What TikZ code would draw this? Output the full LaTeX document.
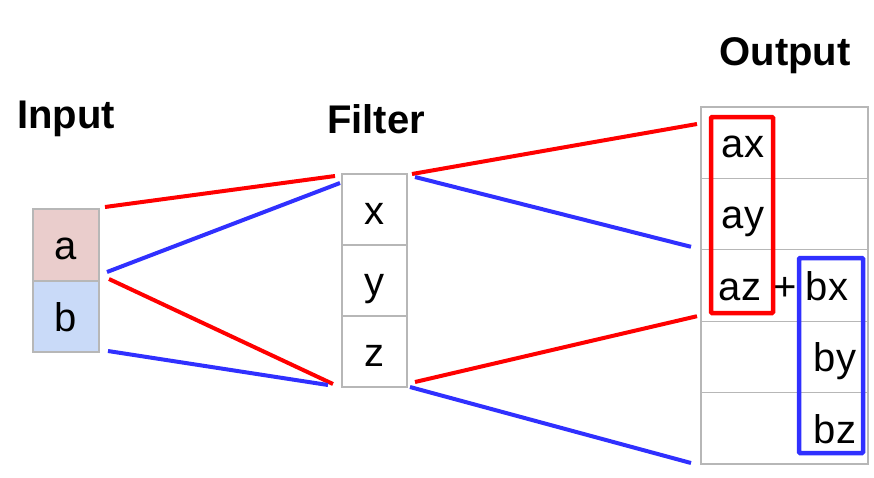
\documentclass[tikz,border=0pt]{standalone}
\usepackage{fontspec}
\setmainfont{Liberation Sans}
\usepackage{tikz}
\usetikzlibrary{positioning, calc}
\definecolor{cellgray}{HTML}{B7B7B7}
\definecolor{fillA}{HTML}{EACDCC}
\definecolor{fillB}{HTML}{C9DAF8}
\definecolor{linered}{HTML}{FF0000}
\definecolor{lineblue}{HTML}{3030FF}

\tikzset{
  cell/.style={draw=cellgray, line width=1.2pt, inner sep=0pt, outer sep=0pt,
    text height=29pt, text depth=0pt, font=\fontsize{40}{48}\selectfont},
  entry/.style={inner sep=0pt, text height=29pt, text depth=0pt, font=\fontsize{40}{48}\selectfont},
  title/.style={anchor=base, font=\fontsize{40}{48}\selectfont\bfseries},
  redline/.style={linered, line width=4pt},
  blueline/.style={lineblue, line width=4pt},
  sumbox/.style={draw, line width=4.5pt, rounded corners=1pt, inner sep=0pt}
}

\begin{document}
\begin{tikzpicture}[x=1pt, y=-1pt]
  \useasboundingbox (0,0) rectangle (874,477);

  % titles
  \node[title] (tin) at (66,128) {Input};
  \node[title] (tfilt) at (376,133) {Filter};
  \node[title] (tout) at (785,65) {Output};

  % input cells
  \node[cell, fill=fillA, minimum width=66pt, minimum height=72pt] (ina) at (66,245) {a};
  \node[cell, fill=fillB, minimum width=66pt, minimum height=71pt, below=0pt of ina] (inb) {b};

  % filter cells
  \node[cell, minimum width=65pt, minimum height=71pt] (fx) at (374.5,209.5) {x};
  \node[cell, minimum width=65pt, minimum height=71pt, below=0pt of fx] (fy) {y};
  \node[cell, minimum width=65pt, minimum height=71pt, below=0pt of fy] (fz) {z};

  % output grid
  \node[cell, minimum width=167pt, minimum height=71.4pt] (o1) at (784.5,142.7) {};
  \foreach \i [remember=\i as \j (initially 1)] in {2,...,5}
    \node[cell, minimum width=167pt, minimum height=71.4pt, below=0pt of o\j] (o\i) {};

  % output entries
  \node[entry] (tax) at (743,142.5) {ax};
  \node[entry] (tay) at (743,214) {ay};
  \node[entry] (taz) at (740,285.5) {az};
  \node[entry] (plus) at (785,285.5) {+};
  \node[entry] (tbx) at (827,285.5) {bx};
  \node[entry] (tby) at (835,357) {by};
  \node[entry] (tbz) at (835,428.5) {bz};

  % groups
  \node[sumbox, linered, minimum width=62pt, minimum height=196pt] (rbox) at (742,215) {};
  \node[sumbox, lineblue, minimum width=64pt, minimum height=195pt] (bbox) at (831,355.5) {};

  % input -> filter
  \draw[redline] ($(ina.north east)+(6,-2)$) -- ($(fx.north west)+(-7,2)$);
  \draw[blueline] ($(ina.south east)+(8,-9)$) -- ($(fx.north west)+(-2,9)$);
  \draw[redline] ($(ina.south east)+(10,-2)$) -- ($(fz.south west)+(-9,-3)$);
  \draw[blueline] ($(inb.south east)+(9,-1)$) -- ($(fz.south west)+(-14,-2)$);

  % filter -> output
  \draw[redline] ($(fx.north east)+(5,0)$) -- ($(o1.north west)+(-4,17)$);
  \draw[blueline] ($(fx.north east)+(8,3)$) -- ($(o2.south west)+(-10,-3)$);
  \draw[redline] ($(fz.south east)+(8,-5)$) -- ($(o3.south west)+(-4,-5)$);
  \draw[blueline] ($(fz.south east)+(3,0)$) -- ($(o5.south west)+(-10,-1)$);
\end{tikzpicture}
\end{document}
